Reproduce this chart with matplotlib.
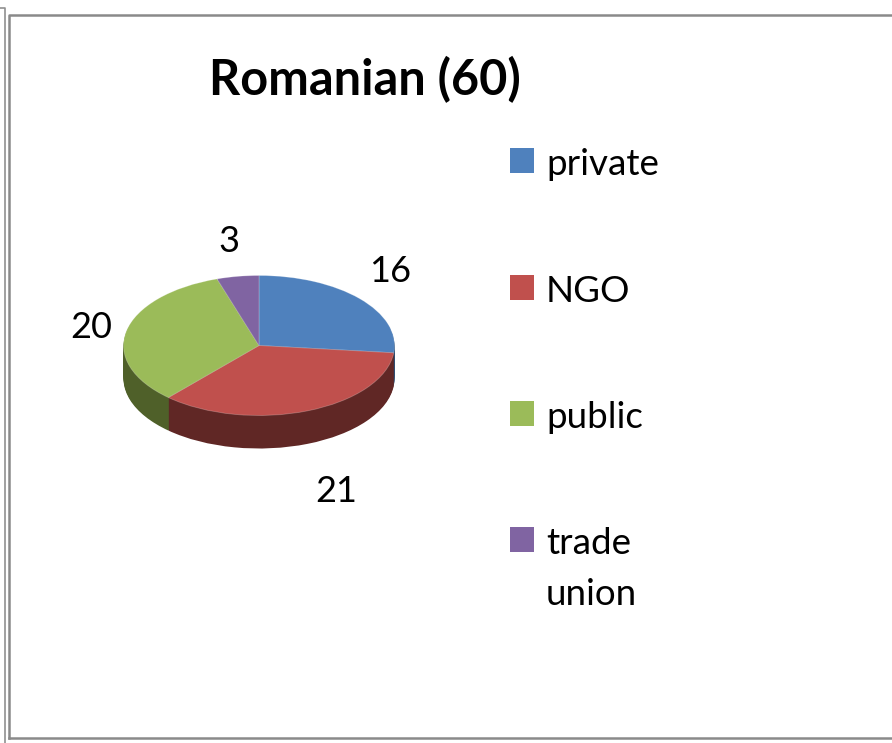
import numpy as np
import matplotlib
matplotlib.use('Agg')
import matplotlib.pyplot as plt
from matplotlib.patches import Rectangle

categories = ['private', 'NGO', 'public', 'trade\nunion']
values = [16, 21, 20, 3]
title = 'Romanian (60)'

top_colors = ['#4f81bd', '#c0504d', '#9bbb59', '#8064a2']
side_colors = ['#2f4d71', '#602725', '#4f6029', '#4d3c61']

W, H = 892, 743
plt.rcParams['font.family'] = ['Lato', 'DejaVu Sans']

fig = plt.figure(figsize=(W / 100, H / 100), dpi=100)

# page coordinates, y goes down like in the picture
bg = fig.add_axes([0, 0, 1, 1])
bg.set_xlim(0, W)
bg.set_ylim(H, 0)
bg.axis('off')

# frames
bg.plot([0, 5, 5], [8, 8, 743], color='#909090', lw=1.2)
bg.plot([9, 9, 892], [738, 15, 15], color='#8a8a8a', lw=1.8)
bg.plot([9, 892], [738, 738], color='#8a8a8a', lw=1.8)

bg.text(365, 80, title, fontsize=35, fontweight='bold', ha='center', va='center', color='black')

# legend
legend_y = [160, 287, 413, 539]
for name, c, y in zip(categories, top_colors, legend_y):
    bg.add_patch(Rectangle((510, y - 12), 24, 25, color=c, lw=0))
    bg.text(546, y - 12, name, fontsize=26.5, ha='left', va='top', color='black', linespacing=1.65)

# data labels
label_pos = [(390, 271), (336, 492), (91, 328), (229, 242)]
for v, (x, y) in zip(values, label_pos):
    bg.text(x, y, str(v), fontsize=26, ha='center', va='center', color='black')

# fake 3d pie: squashed pies stacked on top of each other
cx, cy, rx, ry, depth = 259, 345.5, 135.5, 70, 33
pie_ax = fig.add_axes([(cx - rx * 1.25) / W, 1 - (cy + ry * 1.25) / H, rx * 2.5 / W, ry * 2.5 / H])
for off in np.arange(depth, 0, -1.0):
    pie_ax.pie(values, colors=side_colors, startangle=90, counterclock=False,
               center=(0, -off / ry), wedgeprops={'linewidth': 0})
pie_ax.pie(values, colors=top_colors, startangle=90, counterclock=False,
           wedgeprops={'linewidth': 0.6, 'edgecolor': '#ffffff40'})
pie_ax.set_aspect('auto')
pie_ax.set_xlim(-1.25, 1.25)
pie_ax.set_ylim(-1.25, 1.25)
for p in pie_ax.patches:
    p.set_clip_on(False)

fig.savefig('out.png', dpi=100)
